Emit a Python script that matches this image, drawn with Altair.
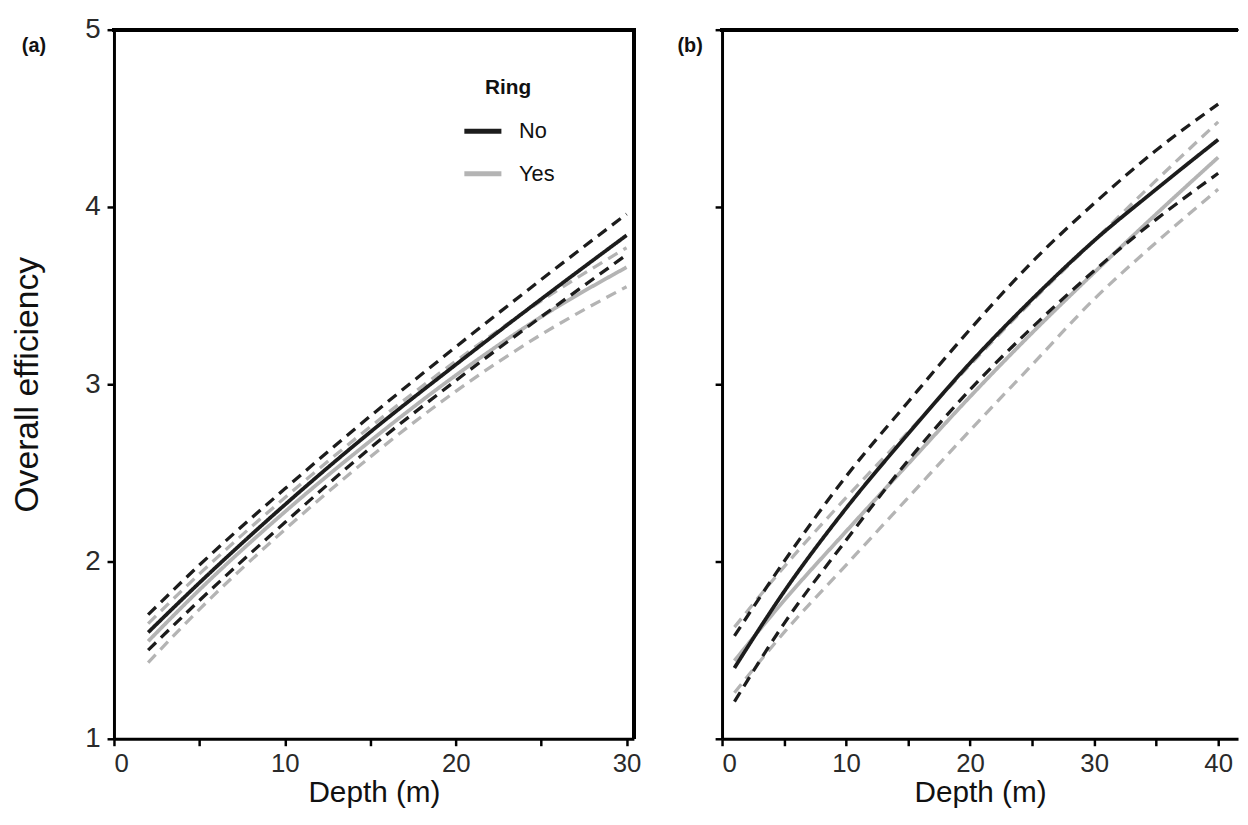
import altair as alt
import pandas as pd

ring_levels = ["No", "Yes"]
ring_colors = ["#1c1c1c", "#b4b4b4"]

# Panel (a)
depth_a = [2, 5, 10, 15, 20, 25, 30]
a_no_fit = [1.60, 1.88, 2.32, 2.73, 3.11, 3.48, 3.84]
a_no_upper = [1.70, 1.98, 2.41, 2.82, 3.21, 3.59, 3.96]
a_no_lower = [1.50, 1.78, 2.22, 2.64, 3.02, 3.38, 3.73]
a_yes_fit = [1.55, 1.84, 2.28, 2.68, 3.05, 3.38, 3.66]
a_yes_upper = [1.65, 1.93, 2.36, 2.76, 3.13, 3.47, 3.77]
a_yes_lower = [1.43, 1.73, 2.18, 2.59, 2.96, 3.28, 3.55]

# Panel (b)
depth_b = [1, 5, 10, 15, 20, 25, 30, 35, 40]
b_no_fit = [1.40, 1.83, 2.30, 2.72, 3.12, 3.48, 3.81, 4.10, 4.38]
b_no_upper = [1.58, 2.00, 2.48, 2.90, 3.31, 3.69, 4.02, 4.32, 4.58]
b_no_lower = [1.21, 1.65, 2.12, 2.57, 2.97, 3.32, 3.64, 3.93, 4.19]
b_yes_fit = [1.44, 1.78, 2.17, 2.55, 2.93, 3.29, 3.63, 3.96, 4.28]
b_yes_upper = [1.63, 1.97, 2.36, 2.73, 3.11, 3.47, 3.81, 4.15, 4.48]
b_yes_lower = [1.26, 1.60, 1.98, 2.36, 2.74, 3.11, 3.48, 3.80, 4.10]

x_ticks_a = [0, 5, 10, 15, 20, 25, 30]
x_ticks_b = [0, 5, 10, 15, 20, 25, 30, 35, 40]
y_ticks = [1, 2, 3, 4, 5]

FONT = "Liberation Sans"


def build(depths, series):
    rows = []
    # grey ("Yes") first so that black lines are drawn on top
    for ring, kind, vals in series:
        for d, v in zip(depths, vals):
            rows.append({"depth": d, "value": v, "ring": ring,
                         "style": "fit" if kind == "fit" else "ci",
                         "series": f"{ring}-{kind}"})
    return pd.DataFrame(rows)


df_a = build(depth_a, [
    ("Yes", "upper", a_yes_upper), ("Yes", "lower", a_yes_lower), ("Yes", "fit", a_yes_fit),
    ("No", "upper", a_no_upper), ("No", "lower", a_no_lower), ("No", "fit", a_no_fit),
])
df_b = build(depth_b, [
    ("Yes", "upper", b_yes_upper), ("Yes", "lower", b_yes_lower), ("Yes", "fit", b_yes_fit),
    ("No", "upper", b_no_upper), ("No", "lower", b_no_lower), ("No", "fit", b_no_fit),
])

W_A, W_B, H = 525, 521, 716


def panel(df, xmax, width, xticks, tag, tag_x, first):
    x_axis = alt.Axis(values=xticks,
                      labelExpr="datum.value % 10 == 0 ? datum.label : ''",
                      title="Depth (m)", grid=False)
    if first:
        y_axis = alt.Axis(values=y_ticks, title="Overall efficiency", grid=False)
        legend = alt.Legend(orient="none", legendX=351, legendY=48, title="Ring",
                            titleAnchor="middle", symbolType="stroke",
                            symbolSize=1400, symbolStrokeWidth=5,
                            labelFontSize=22, titleFontSize=21,
                            titleFontWeight="bold", rowPadding=10,
                            titlePadding=12, labelOffset=15, padding=0,
                            labelFont=FONT, titleFont=FONT,
                            labelColor="#111111", titleColor="#111111")
    else:
        y_axis = alt.Axis(values=y_ticks, title=None, labels=False, grid=False)
        legend = None

    color = alt.Color("ring:N", scale=alt.Scale(domain=ring_levels, range=ring_colors),
                      legend=legend)
    lines = alt.Chart(df).mark_line(interpolate="monotone").encode(
        x=alt.X("depth:Q", scale=alt.Scale(domain=[0, xmax], nice=False, zero=False),
                axis=x_axis),
        y=alt.Y("value:Q", scale=alt.Scale(domain=[1, 5], nice=False, zero=False),
                axis=y_axis),
        color=color,
        strokeDash=alt.StrokeDash("style:N",
                                  scale=alt.Scale(domain=["fit", "ci"], range=[[1, 0], [11, 7]]),
                                  legend=None),
        strokeWidth=alt.StrokeWidth("style:N",
                                    scale=alt.Scale(domain=["fit", "ci"], range=[3.8, 3.3]),
                                    legend=None),
        detail="series:N",
    )
    top = alt.Chart(df).mark_rule(color="black", strokeWidth=3).encode(
        x=alt.value(-1.5), x2=alt.value(width), y=alt.value(0))
    layers = [lines, top]
    if first:
        right = alt.Chart(df).mark_rule(color="black", strokeWidth=3).encode(
            x=alt.value(width), y=alt.value(-1.5), y2=alt.value(H))
        layers.append(right)
    label = alt.Chart(pd.DataFrame({"t": [tag]})).mark_text(
        align="left", baseline="middle", fontSize=20, fontWeight="bold", font=FONT,
        color="#111111").encode(x=alt.value(tag_x), y=alt.value(17), text="t:N")
    layers.append(label)
    return alt.layer(*layers).properties(width=width, height=H)


pa = panel(df_a, 30.43, W_A, x_ticks_a, "(a)", -93, True)
pb = panel(df_b, 41.6, W_B, x_ticks_b, "(b)", -45, False)

chart = alt.hconcat(pa, pb, spacing=36).resolve_scale(color="independent").properties(
    padding={"left": 2, "top": 4, "right": 0, "bottom": 0}
).configure_view(stroke=None).configure_axis(
    domainColor="black", domainWidth=3, tickColor="black", tickWidth=2.5, tickSize=7,
    labelFont=FONT, labelColor="#2a2a2a",
    titleFont=FONT, titleFontWeight="normal", titleColor="#111111",
).configure_axisX(
    labelFontSize=26, labelPadding=5, titleFontSize=30, titlePadding=1
).configure_axisY(
    labelFontSize=28, labelPadding=7, titleFontSize=34, titlePadding=41
)

chart.save("out.html", embed_options={"renderer": "svg", "actions": False})
